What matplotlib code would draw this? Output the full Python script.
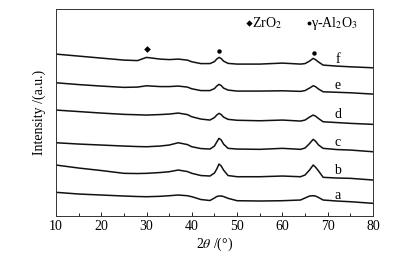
import numpy as np
import matplotlib
matplotlib.use("Agg")
import matplotlib.pyplot as plt

plt.rcParams['font.family'] = ['Liberation Serif', 'DejaVu Serif']
plt.rcParams['mathtext.fontset'] = 'stix'

# 2theta positions (deg)
two_theta = [10, 15, 20, 25, 28, 30, 33, 35, 37, 39, 40, 42, 44, 45, 45.5, 46, 46.5,
             47, 48, 50, 55, 60, 64, 65, 66, 66.8, 67.3, 68, 69, 72, 75, 80]

# intensity of each pattern (arbitrary units, stacked)
curve_a = [23.7, 22, 21, 20, 19.5, 19.3, 19.7, 20.3, 21, 20.3, 19.3, 16.5, 15.5, 18, 19.5, 20, 20,
           19.5, 17.7, 15.3, 15, 15.3, 16, 18, 20, 20.3, 20, 18.5, 16, 15, 14.3, 12.7]
curve_b = [51, 48, 45.5, 42.7, 42.5, 42.7, 43.5, 44.3, 46, 44.5, 42.7, 40.5, 40, 43, 47, 52, 50,
           46, 40.5, 39.3, 39.3, 40, 39.3, 41, 46, 51, 49, 45, 38.7, 38, 37.7, 36]
curve_c = [73.3, 72, 71, 70, 69.5, 69.3, 70, 71, 73.3, 71.5, 69.3, 67.5, 67, 70, 74, 77.7, 76,
           72, 67.7, 67, 66.7, 67.7, 66.7, 68, 72.5, 76.7, 75, 71, 67.7, 66.5, 66, 64.3]
curve_d = [106, 104.5, 103, 101.7, 101.3, 101, 101.5, 102, 103, 101.5, 99.3, 97, 96, 98.5, 101, 102.7, 101.5,
           99, 96.7, 95.8, 95.3, 96, 95, 96, 99, 101, 100, 97.5, 94.3, 93.5, 92.7, 91.7]
curve_e = [133.3, 131.5, 130, 128.7, 129, 130.3, 129.5, 129.5, 130, 129, 127.3, 125.5, 125.5, 127.5, 130, 131.7, 130.5,
           128, 126, 125, 125, 125.3, 124.7, 125.5, 128, 130.3, 129.5, 127, 124.3, 123.8, 123.3, 122]
curve_f = [162, 160, 158, 156, 155.5, 158.7, 157, 156.5, 157, 156, 154.3, 152.5, 152.5, 154.5, 157, 158.7, 157.5,
           155, 152.7, 152, 152, 153, 152, 152.5, 155, 157.7, 156.5, 154, 151, 150, 149.3, 148.3]

curves = [curve_a, curve_b, curve_c, curve_d, curve_e, curve_f]
labels = ['a', 'b', 'c', 'd', 'e', 'f']
label_y = [21, 45.5, 74, 101.5, 130.5, 157]

# phase marks above pattern f
zro2_pos = [30.2]
zro2_y = [167]
al2o3_pos = [46.0, 67.0]
al2o3_y = [165.3, 162.7]

fig = plt.figure(figsize=(4.04, 2.57), dpi=100)
ax = fig.add_axes([0.1386, 0.1595, 0.7845, 0.805])

for y, lab, ly in zip(curves, labels, label_y):
    ax.plot(two_theta, y, color='#111111', lw=1.1)
    ax.text(72.2, ly, lab, fontsize=10, ha='center', va='center')

ax.plot(zro2_pos, zro2_y, 'D', color='black', ms=3.4, mew=0)
ax.plot(al2o3_pos, al2o3_y, 'o', color='black', ms=3.2, mew=0)

# legend-like labels at the top
ax.plot([52.6], [193], 'D', color='black', ms=3.2, mew=0)
ax.text(53.3, 193, 'ZrO$_2$', fontsize=10, va='center', ha='left')
ax.plot([65.9], [193], 'o', color='black', ms=2.8, mew=0)
ax.text(66.4, 193, 'γ-Al$_2$O$_3$', fontsize=10, va='center', ha='left')

ax.set_xlim(10, 80)
ax.set_ylim(0, 207)
ax.set_xticks(np.arange(10, 81, 10))
ax.set_xticks(np.arange(15, 80, 10), minor=True)
ax.set_yticks([])
ax.tick_params(axis='x', which='major', direction='in', length=3, width=0.6, labelsize=10, pad=3)
ax.tick_params(axis='x', which='minor', direction='in', length=2, width=0.6)
for s in ax.spines.values():
    s.set_linewidth(0.7)
    s.set_color('#333333')

ax.set_xlabel(r'2$\theta$ /(°)', fontsize=10, labelpad=2)
ax.set_ylabel('Intensity /(a.u.)', fontsize=10, labelpad=7)

fig.savefig('out.png', dpi=100)
